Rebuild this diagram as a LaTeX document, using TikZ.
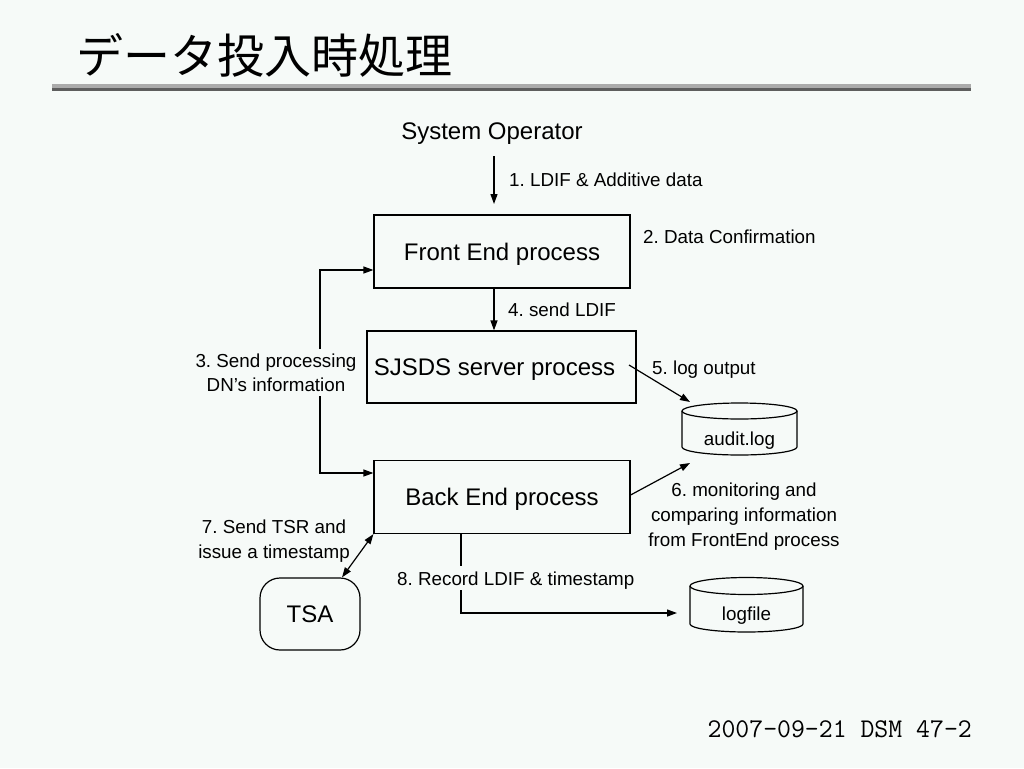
\documentclass[tikz,border=0pt]{standalone}
\usepackage{fontspec}
\setmainfont{Liberation Sans}
\newfontfamily\jpfont{Noto Sans CJK JP}
\usetikzlibrary{arrows.meta,calc}
\definecolor{bg}{HTML}{F6FAF8}
\definecolor{rulelight}{HTML}{ABABAB}
\definecolor{ruledark}{HTML}{5E5E5E}
\frenchspacing
\begin{document}
\begin{tikzpicture}[x=1pt,y=-1pt,
  box/.style={draw,line width=1.2pt,minimum width=256pt,minimum height=73pt,
    font=\fontsize{24}{28}\selectfont,inner sep=0,text height=19pt,text depth=1.4pt},
  lbl/.style={font=\fontsize{18.8}{24.5}\selectfont,align=center,inner sep=0},
  big/.style={font=\fontsize{24}{28}\selectfont,inner sep=0},
  arr/.style={line width=1.2pt,-{Triangle[length=10pt,width=7pt]}},
  dbl/.style={line width=1.2pt,{Triangle[length=10pt,width=7pt]}-{Triangle[length=10pt,width=7pt]}},
  ln/.style={line width=1.2pt}]
\fill[bg] (0,0) rectangle (1024,768);
\useasboundingbox (0,0) rectangle (1024,768);

% title and rule
\node[font=\jpfont\fontsize{47}{50}\selectfont,anchor=west,inner sep=0] (title) at (76,55) {データ投入時処理};
\fill[rulelight] (52,84) rectangle (971,88);
\fill[ruledark] (52,88) rectangle (971,91);

% footer
\node[font=\ttfamily\fontsize{27}{30}\selectfont,anchor=east,inner sep=0] (foot) at (972,729) {2007-09-21 DSM 47-2};

% nodes
\node[big,anchor=base] (op) at (492,139.5) {System Operator};
\node[box] (fe) at (502,251.5) {Front End process};
\node[box,minimum width=269pt,minimum height=72pt] (sj) at (501.5,367) {SJSDS server process\kern14pt};
\node[box] (be) at (502,497) {Back End process};
\node[draw,rounded corners=20pt,line width=1.2pt,minimum width=100pt,minimum height=72pt,
  font=\fontsize{24}{28}\selectfont,text height=19pt,text depth=1.4pt] (tsa) at (310,614) {TSA};

% audit.log cylinder
\draw[ln,fill=bg] (739.5,411) ellipse [x radius=57.5, y radius=8];
\draw[ln] (682,411) -- (682,447) arc[start angle=180,end angle=0,x radius=57.5,y radius=8] -- (797,411);
\node[lbl] (audit) at (739.5,441) {audit.log};
% logfile cylinder
\draw[ln,fill=bg] (746.5,586) ellipse [x radius=56.5, y radius=8.5];
\draw[ln] (690,586) -- (690,624) arc[start angle=180,end angle=0,x radius=56.5,y radius=8] -- (803,586);
\node[lbl] (logf) at (746.5,616) {logfile};

% coordinates
\coordinate (a1s) at (494,156);
\coordinate (a1e) at (494,204);
\coordinate (c3u) at (320,349);
\coordinate (c3d) at (320,396);
\coordinate (c5s) at (629,365);
\coordinate (c5e) at (690,402);
\coordinate (c6e) at (690,463);
\coordinate (c8a) at (461,533);
\coordinate (c8b) at (461,566);
\coordinate (c8c) at (461,590);
\coordinate (c8e) at (677,613);

% connectors
\draw[arr] (a1s) -- (a1e);
\draw[arr] (fe.south -| a1s) -- (sj.north -| a1s);
\draw[arr] (c3u) |- ($(fe.west)+(0,18.5)$);
\draw[arr] (c3d) |- ($(be.west)+(0,-24)$);
\draw[arr] (c5s) -- (c5e);
\draw[arr] ($(be.east)+(0,-2)$) -- (c6e);
\draw[dbl] (be.south west) -- ($(tsa.north)+(32,0)$);
\draw[ln] (c8a) -- (c8b);
\draw[arr] (c8c) |- (c8e);

% labels
\node[lbl,anchor=base west] (l1) at (509,186) {1. LDIF \& Additive data};
\node[lbl,anchor=base west] (l2) at (643,243) {2. Data Confirmation};
\node[lbl] (l3) at (276,373) {3. Send processing\\DN's information};
\node[lbl,anchor=base west] (l4) at (508,316) {4. send LDIF};
\node[lbl,anchor=base west] (l5) at (652,374) {5. log output};
\node[lbl,font=\fontsize{18.8}{25}\selectfont] (l6) at (744,517) {6. monitoring and\\comparing information\\from FrontEnd process};
\node[lbl] (l7) at (274,541) {7. Send TSR and\\issue a timestamp};
\node[lbl,anchor=base west] (l8) at (397,585) {8. Record LDIF \& timestamp};
\end{tikzpicture}
\end{document}
